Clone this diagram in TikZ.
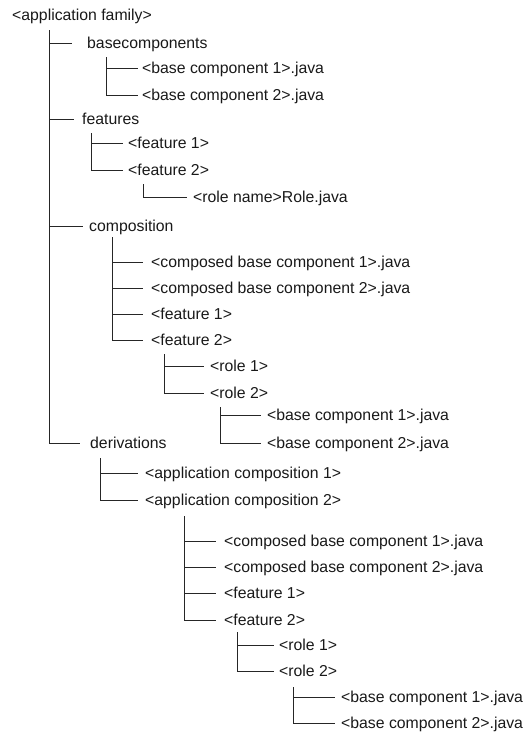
\documentclass[tikz,border=0pt]{standalone}
\usepackage{fontspec}
\setmainfont{Liberation Sans}
\usepackage{tikz}
\usetikzlibrary{positioning}
\tikzset{
  dirnode/.style = {anchor=west, inner ysep=0pt, inner xsep=6pt,
    text height=12pt, text depth=2pt, text=black!90,
    font=\fontsize{15.8}{18}\selectfont},% one entry of the folder tree
  dirline/.style = {draw=black!85, line width=0.9pt}% tree branch
}

\begin{document}
\begin{tikzpicture}[x=1pt,y=-1pt]
\useasboundingbox (0,0) rectangle (527,732);

% top level
\node [dirnode] (family) at (6,15) {<application family>};
\node [dirnode, inner xsep=15pt] (bases) at (72,43) {basecomponents};
\node [dirnode, inner xsep=4pt] (baseA) at (138,68) {<base component 1>.java};
\node [dirnode, inner xsep=4pt] (baseB) at (138,95) {<base component 2>.java};
\node [dirnode, inner xsep=8pt] (feats) at (74,119) {features};
\node [dirnode, inner xsep=5pt] (featA) at (123,143) {<feature 1>};
\node [dirnode, inner xsep=5pt] (featB) at (123,170) {<feature 2>};
\node [dirnode] (roleName) at (187,197) {<role name>Role.java};

% composition
\node [dirnode] (comp) at (83,226) {composition};
\node [dirnode, inner xsep=8pt] (cBaseA) at (143,262) {<composed base component 1>.java};
\node [dirnode, inner xsep=8pt] (cBaseB) at (143,288) {<composed base component 2>.java};
\node [dirnode, inner xsep=8pt] (cFeatA) at (143,314) {<feature 1>};
\node [dirnode, inner xsep=8pt] (cFeatB) at (143,340) {<feature 2>};
\node [dirnode] (cRoleA) at (204,366) {<role 1>};
\node [dirnode] (cRoleB) at (204,393) {<role 2>};
\node [dirnode] (cRoleBaseA) at (261,415) {<base component 1>.java};
\node [dirnode] (cRoleBaseB) at (261,443) {<base component 2>.java};

% derivations
\node [dirnode, inner xsep=10pt] (deriv) at (80,443) {derivations};
\node [dirnode, inner xsep=7pt] (appA) at (138,473) {<application composition 1>};
\node [dirnode, inner xsep=7pt] (appB) at (138,500) {<application composition 2>};
\node [dirnode, inner xsep=8pt] (dBaseA) at (216,541) {<composed base component 1>.java};
\node [dirnode, inner xsep=8pt] (dBaseB) at (216,567) {<composed base component 2>.java};
\node [dirnode, inner xsep=8pt] (dFeatA) at (216,593) {<feature 1>};
\node [dirnode, inner xsep=8pt] (dFeatB) at (216,620) {<feature 2>};
\node [dirnode, inner xsep=5pt] (dRoleA) at (274,645) {<role 1>};
\node [dirnode, inner xsep=5pt] (dRoleB) at (274,671) {<role 2>};
\node [dirnode] (dRoleBaseA) at (335,697) {<base component 1>.java};
\node [dirnode] (dRoleBaseB) at (335,723) {<base component 2>.java};

% where each branch starts
\coordinate (familyTop) at (49,30);
\coordinate (basesTop) at (106,57);
\coordinate (featsTop) at (91,133);
\coordinate (featBTop) at (143,184);
\coordinate (compTop) at (112,237);
\coordinate (cFeatBTop) at (164,354);
\coordinate (cRoleBTop) at (220,407);
\coordinate (derivTop) at (100,458);
\coordinate (appBTop) at (184,516);
\coordinate (dFeatBTop) at (237,632);
\coordinate (dRoleBTop) at (293,687);

\foreach \c in {bases,feats,comp,deriv}
  \draw [dirline] (familyTop) |- (\c.west);
\foreach \c in {baseA,baseB}
  \draw [dirline] (basesTop) |- (\c.west);
\foreach \c in {featA,featB}
  \draw [dirline] (featsTop) |- (\c.west);
\draw [dirline] (featBTop) |- (roleName.west);
\foreach \c in {cBaseA,cBaseB,cFeatA,cFeatB}
  \draw [dirline] (compTop) |- (\c.west);
\foreach \c in {cRoleA,cRoleB}
  \draw [dirline] (cFeatBTop) |- (\c.west);
\foreach \c in {cRoleBaseA,cRoleBaseB}
  \draw [dirline] (cRoleBTop) |- (\c.west);
\foreach \c in {appA,appB}
  \draw [dirline] (derivTop) |- (\c.west);
\foreach \c in {dBaseA,dBaseB,dFeatA,dFeatB}
  \draw [dirline] (appBTop) |- (\c.west);
\foreach \c in {dRoleA,dRoleB}
  \draw [dirline] (dFeatBTop) |- (\c.west);
\foreach \c in {dRoleBaseA,dRoleBaseB}
  \draw [dirline] (dRoleBTop) |- (\c.west);
\end{tikzpicture}
\end{document}
